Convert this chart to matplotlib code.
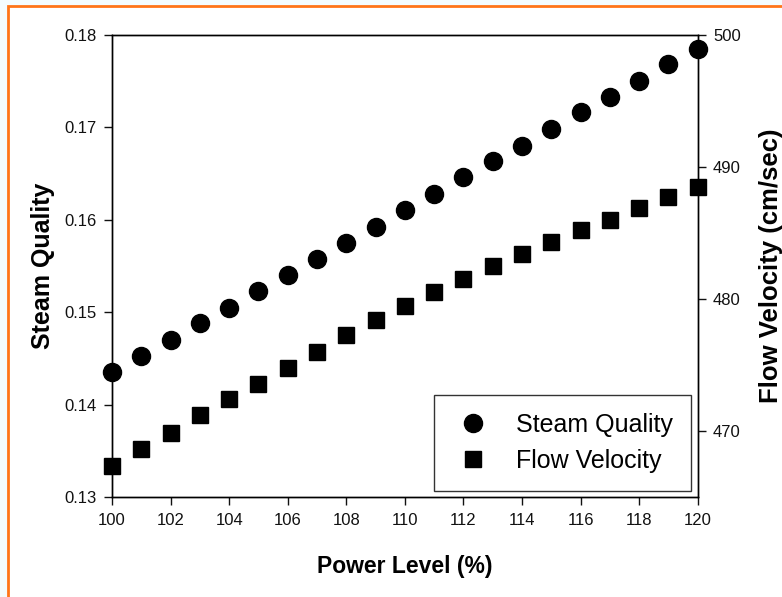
#!/usr/bin/env python3
"""Steam quality and flow velocity vs power level (dual y axis)."""

import matplotlib
matplotlib.use("Agg")
import matplotlib.pyplot as plt
from matplotlib.patches import Rectangle

plt.rcParams["font.family"] = ["Liberation Sans", "DejaVu Sans"]

POWER = [100, 101, 102, 103, 104, 105, 106, 107, 108, 109, 110,
         111, 112, 113, 114, 115, 116, 117, 118, 119, 120]
STEAM_QUALITY = [0.1435, 0.1453, 0.1470, 0.1488, 0.1505, 0.1523, 0.1540,
                 0.1558, 0.1575, 0.1592, 0.1610, 0.1628, 0.1646, 0.1663,
                 0.1680, 0.1698, 0.1716, 0.1733, 0.1750, 0.1768, 0.1785]
FLOW_VELOCITY = [467.4, 468.65, 469.9, 471.2, 472.4, 473.6, 474.8, 476.0,
                 477.3, 478.4, 479.5, 480.5, 481.5, 482.5, 483.4, 484.3,
                 485.2, 486.0, 486.9, 487.7, 488.5]
X_TICKS = list(range(100, 121, 2))
SQ_TICKS = [0.13, 0.14, 0.15, 0.16, 0.17, 0.18]
FV_TICKS = [470, 480, 490, 500]


def main():
    fig = plt.figure(figsize=(7.82, 5.97), dpi=100)
    fig.patch.set_facecolor("#f4fcfe")
    # orange frame (open on right/bottom as in the source)
    fig.patches.append(Rectangle((8 / 782, -0.1), 1.2, 1 - 6 / 597 + 0.1,
                                 transform=fig.transFigure, facecolor="white",
                                 edgecolor="#ff7518", linewidth=2, zorder=-10))

    ax = fig.add_axes([0.1432, 0.167, 0.749, 0.775])
    ax2 = ax.twinx()

    h1, = ax.plot(POWER, STEAM_QUALITY, "o", color="black", markersize=13,
                  linestyle="none", label="Steam Quality")
    h2, = ax2.plot(POWER, FLOW_VELOCITY, "s", color="black", markersize=11,
                   linestyle="none", label="Flow Velocity")

    ax.set_xlim(100, 120)
    ax.set_ylim(0.13, 0.18)
    ax2.set_ylim(465, 500)
    ax.set_xticks(X_TICKS)
    ax.set_yticks(SQ_TICKS)
    ax.set_yticklabels([f"{v:.2f}" for v in SQ_TICKS])
    ax2.set_yticks(FV_TICKS)

    for a in (ax, ax2):
        for s in a.spines.values():
            s.set_linewidth(1.0)
        a.tick_params(direction="out", length=6, width=1, labelsize=12,
                      colors="#111111", pad=5)
    for m in (h1, h2):
        m.set_clip_on(False)

    ax.set_xlabel("Power Level (%)", fontsize=16.5, fontweight="bold",
                  labelpad=20)
    ax.set_ylabel("Steam Quality", fontsize=18, fontweight="bold", labelpad=7)
    ax2.set_ylabel("Flow Velocity (cm/sec)", fontsize=18.5, fontweight="bold",
                   labelpad=13)

    leg = ax2.legend([h1, h2], ["Steam Quality", "Flow Velocity"],
                     loc="lower right", bbox_to_anchor=(0.988, 0.0143),
                     fontsize=18, frameon=True, fancybox=False,
                     edgecolor="#333333", framealpha=1, borderpad=0.7,
                     handletextpad=0.9, labelspacing=0.49, borderaxespad=0,
                     handlelength=1.7)
    leg.get_frame().set_linewidth(1.0)

    fig.savefig("out.png", dpi=100, facecolor=fig.get_facecolor())
    plt.close(fig)


if __name__ == "__main__":
    main()
